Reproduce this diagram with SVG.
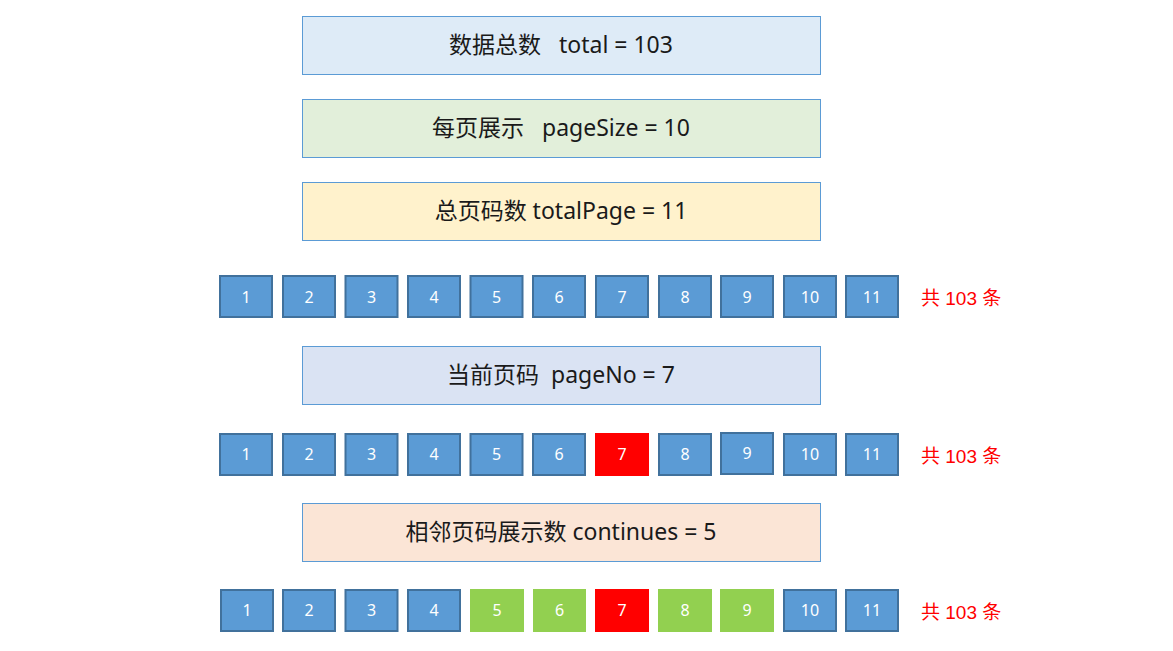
<svg xmlns="http://www.w3.org/2000/svg" width="1173" height="651" viewBox="0 0 1173 651">
<style>
.big{stroke:#5B9BD5;stroke-width:1}
.bt{font-family:"Noto Sans","Noto Sans CJK SC",sans-serif;font-size:23px;fill:#1a1a1a;text-anchor:middle;dominant-baseline:central;white-space:pre}
.pb{fill:#5B9BD5;stroke:#41719C;stroke-width:2}
.pr{fill:#FF0000}
.pg{fill:#92D050}
.pt{font-family:"Noto Sans","Liberation Sans",sans-serif;font-size:16px;fill:#ffffff;text-anchor:middle;dominant-baseline:central}
.tot{font-family:"Liberation Sans","Noto Sans CJK SC",sans-serif;font-size:19px;fill:#FF0000;dominant-baseline:central}
</style>
<rect width="1173" height="651" fill="#ffffff"/>
<g id="total"><rect class="big" x="302.5" y="16.5" width="518" height="58" fill="#DEEBF7"/><text class="bt" x="561" y="44" xml:space="preserve">数据总数   total = 103</text></g>
<g id="pageSize"><rect class="big" x="302.5" y="99.5" width="518" height="58" fill="#E2EFDA"/><text class="bt" x="561" y="127" xml:space="preserve">每页展示   pageSize = 10</text></g>
<g id="totalPage"><rect class="big" x="302.5" y="182.5" width="518" height="58" fill="#FFF2CC"/><text class="bt" x="561" y="210">总页码数 totalPage = 11</text></g>
<g id="row1">
<rect class="pb" x="220" y="276" width="52" height="41"/><text class="pt" x="246" y="296.5">1</text>
<rect class="pb" x="283" y="276" width="52" height="41"/><text class="pt" x="309" y="296.5">2</text>
<rect class="pb" x="345.5" y="276" width="52" height="41"/><text class="pt" x="371.5" y="296.5">3</text>
<rect class="pb" x="408" y="276" width="52" height="41"/><text class="pt" x="434" y="296.5">4</text>
<rect class="pb" x="470.5" y="276" width="52" height="41"/><text class="pt" x="496.5" y="296.5">5</text>
<rect class="pb" x="533" y="276" width="52" height="41"/><text class="pt" x="559" y="296.5">6</text>
<rect class="pb" x="596" y="276" width="52" height="41"/><text class="pt" x="622" y="296.5">7</text>
<rect class="pb" x="659" y="276" width="52" height="41"/><text class="pt" x="685" y="296.5">8</text>
<rect class="pb" x="721" y="276" width="52" height="41"/><text class="pt" x="747" y="296.5">9</text>
<rect class="pb" x="784" y="276" width="52" height="41"/><text class="pt" x="810" y="296.5">10</text>
<rect class="pb" x="846" y="276" width="52" height="41"/><text class="pt" x="872" y="296.5">11</text>
<text class="tot" x="921" y="298">共 103 条</text>
</g>
<g id="pageNo"><rect class="big" x="302.5" y="346.5" width="518" height="58" fill="#DAE3F3"/><text class="bt" x="561" y="374" xml:space="preserve">当前页码  pageNo = 7</text></g>
<g id="row2">
<rect class="pb" x="220" y="434" width="52" height="41"/><text class="pt" x="246" y="454">1</text>
<rect class="pb" x="283" y="434" width="52" height="41"/><text class="pt" x="309" y="454">2</text>
<rect class="pb" x="345.5" y="434" width="52" height="41"/><text class="pt" x="371.5" y="454">3</text>
<rect class="pb" x="408" y="434" width="52" height="41"/><text class="pt" x="434" y="454">4</text>
<rect class="pb" x="470.5" y="434" width="52" height="41"/><text class="pt" x="496.5" y="454">5</text>
<rect class="pb" x="533" y="434" width="52" height="41"/><text class="pt" x="559" y="454">6</text>
<rect class="pr" x="595" y="433" width="54" height="43"/><text class="pt" x="622" y="454">7</text>
<rect class="pb" x="659" y="434" width="52" height="41"/><text class="pt" x="685" y="454">8</text>
<rect class="pb" x="721" y="433" width="52" height="41"/><text class="pt" x="747" y="453">9</text>
<rect class="pb" x="784" y="434" width="52" height="41"/><text class="pt" x="810" y="454">10</text>
<rect class="pb" x="846" y="434" width="52" height="41"/><text class="pt" x="872" y="454">11</text>
<text class="tot" x="921" y="456">共 103 条</text>
</g>
<g id="continues"><rect class="big" x="302.5" y="503.5" width="518" height="58" fill="#FBE5D6"/><text class="bt" x="561" y="531">相邻页码展示数 continues = 5</text></g>
<g id="row3">
<rect class="pb" x="221" y="590" width="52" height="41"/><text class="pt" x="247" y="610">1</text>
<rect class="pb" x="283" y="590" width="52" height="41"/><text class="pt" x="309" y="610">2</text>
<rect class="pb" x="345.5" y="590" width="52" height="41"/><text class="pt" x="371.5" y="610">3</text>
<rect class="pb" x="408" y="590" width="52" height="41"/><text class="pt" x="434" y="610">4</text>
<rect class="pg" x="470" y="589" width="54" height="43"/><text class="pt" x="497" y="610">5</text>
<rect class="pg" x="533" y="589" width="53" height="43"/><text class="pt" x="559.5" y="610">6</text>
<rect class="pr" x="595" y="589" width="54" height="43"/><text class="pt" x="622" y="610">7</text>
<rect class="pg" x="658" y="589" width="54" height="43"/><text class="pt" x="685" y="610">8</text>
<rect class="pg" x="720" y="589" width="54" height="43"/><text class="pt" x="747" y="610">9</text>
<rect class="pb" x="784" y="590" width="52" height="41"/><text class="pt" x="810" y="610">10</text>
<rect class="pb" x="846" y="590" width="52" height="41"/><text class="pt" x="872" y="610">11</text>
<text class="tot" x="921" y="612">共 103 条</text>
</g>
<g id="connectors"></g>
</svg>
